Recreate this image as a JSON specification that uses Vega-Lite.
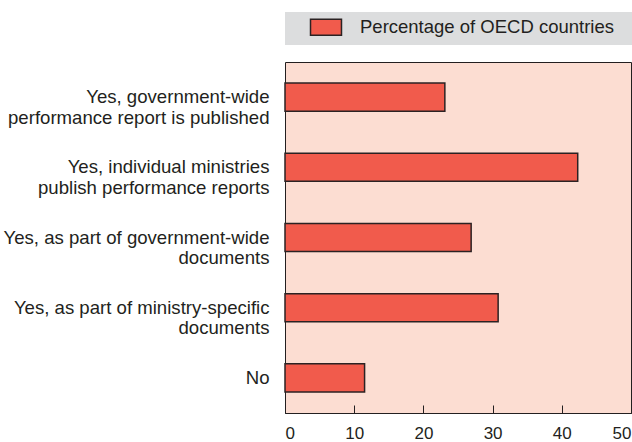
{
  "$schema": "https://vega.github.io/schema/vega-lite/v6.json",
  "width": 346,
  "height": 351,
  "autosize": {"type": "none"},
  "padding": {"left": 285, "top": 62, "right": 1, "bottom": 29},
  "background": "white",
  "data": {
    "values": [
      {"category": "Yes, government-wide\nperformance report is published", "value": 23.1},
      {"category": "Yes, individual ministries\npublish performance reports", "value": 42.3},
      {"category": "Yes, as part of government-wide\ndocuments", "value": 26.9},
      {"category": "Yes, as part of ministry-specific\ndocuments", "value": 30.8},
      {"category": "No", "value": 11.5}
    ]
  },
  "mark": {"type": "bar", "stroke": "#2B2223", "strokeWidth": 1.5},
  "encoding": {
    "y": {
      "field": "category",
      "type": "nominal",
      "sort": null,
      "scale": {"paddingInner": 0.6, "paddingOuter": 0.3},
      "axis": {
        "title": null,
        "ticks": false,
        "domain": false,
        "labelPadding": 16,
        "labelFontSize": 18.6,
        "labelLineHeight": 20.5,
        "labelLimit": 320,
        "labelColor": "#231F20",
        "labelFont": "Liberation Sans",
        "labelExpr": "split(datum.label, '\\n')"
      }
    },
    "x": {
      "field": "value",
      "type": "quantitative",
      "scale": {"domain": [0, 50]},
      "axis": {
        "title": null,
        "grid": false,
        "values": [0, 10, 20, 30, 40, 50],
        "tickSize": -8,
        "tickColor": "#231F20",
        "tickWidth": 1,
        "domainColor": "#231F20",
        "labelPadding": 20,
        "labelFontSize": 17,
        "labelColor": "#231F20",
        "labelFont": "Liberation Sans",
        "labelFlush": true,
        "labelOverlap": false
      }
    },
    "fill": {
      "datum": "Percentage of OECD countries",
      "type": "nominal",
      "scale": {"range": ["#F15B4C"]},
      "legend": {
        "title": null,
        "orient": "none",
        "legendX": 0,
        "legendY": -50,
        "fillColor": "#DCDDDE",
        "padding": 6,
        "symbolOffset": 25.75,
        "labelOffset": 24.75,
        "symbolType": "M-2,-1.03H2V1.03H-2Z",
        "symbolSize": 240,
        "symbolStrokeColor": "#2B2223",
        "symbolStrokeWidth": 1.5,
        "labelFontSize": 18.5,
        "labelFont": "Liberation Sans",
        "labelColor": "#231F20",
        "labelLimit": 400,
        "labelExpr": "datum.label + '\u00a0\u00a0\u00a0\u200b'"
      }
    }
  },
  "config": {
    "view": {"fill": "#FCDDD2", "stroke": "#231F20", "strokeWidth": 1}
  }
}
